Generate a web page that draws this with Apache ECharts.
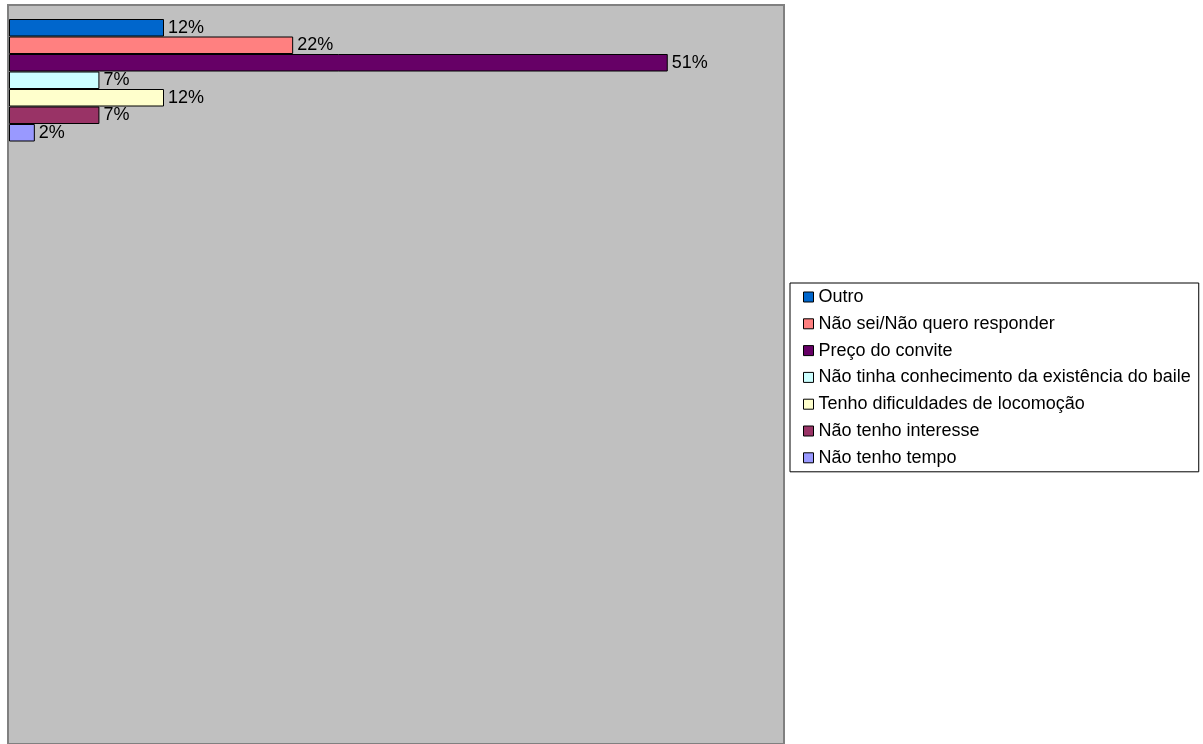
<!DOCTYPE html>
<html>
<head>
<meta charset="utf-8">
<title>Motivos</title>
<script src="https://cdn.jsdelivr.net/npm/echarts@6/dist/echarts.min.js"></script>
<style>
  html, body { margin: 0; padding: 0; background: #fff; }
  #chart { width: 1203px; height: 744px; }
</style>
</head>
<body>
<div id="chart"></div>
<script>
const seriesNames = [
  'Outro',
  'Não sei/Não quero responder',
  'Preço do convite',
  'Não tinha conhecimento da existência do baile',
  'Tenho dificuldades de locomoção',
  'Não tenho interesse',
  'Não tenho tempo'
]
const seriesValues = [12, 22, 51, 7, 12, 7, 2]
const seriesColors = ['#0066CC', '#FF8080', '#660066', '#CCFFFF', '#FFFFCC', '#993366', '#9999FF']
const category = ['']

const font = 'Liberation Sans, Arial, sans-serif'
const chart = echarts.init(document.getElementById('chart'))

const series = seriesNames.map((name, i) => {
  return {
    name,
    type: 'bar',
    xAxisIndex: 1,
    yAxisIndex: 1,
    barGap: '0%',
    barCategoryGap: '0%',
    data: [seriesValues[i]],
    itemStyle: {
      color: seriesColors[i],
      borderColor: '#000',
      borderWidth: 1
    },
    label: {
      show: true,
      position: 'right',
      distance: 4,
      formatter: '{c}%',
      color: '#000',
      fontSize: 18,
      fontFamily: font
    }
  }
})

const option = {
  animation: false,
  grid: [
    // fundo da area de plotagem
    { left: 8, top: 5, width: 776, height: 780, show: true, backgroundColor: '#C0C0C0', borderColor: '#808080', borderWidth: 2 },
    // barras
    { left: 9, top: 19, width: 775, height: 122.5 }
  ],
  xAxis: [
    { gridIndex: 0, type: 'value', show: false },
    { gridIndex: 1, type: 'value', min: 0, max: 60, show: false }
  ],
  yAxis: [
    { gridIndex: 0, type: 'value', show: false },
    { gridIndex: 1, type: 'category', data: category, inverse: true, show: false }
  ],
  legend: {
    orient: 'vertical',
    left: 790,
    top: 283,
    padding: [5, 8, 5, 13],
    borderColor: '#000',
    borderWidth: 1,
    icon: 'rect',
    itemWidth: 10,
    itemHeight: 10,
    itemGap: 8.8,
    itemStyle: { borderColor: '#000', borderWidth: 1 },
    textStyle: { fontSize: 18, fontFamily: font, color: '#000', lineHeight: 18 },
    data: seriesNames
  },
  series
}
chart.setOption(option)
</script>
</body>
</html>
